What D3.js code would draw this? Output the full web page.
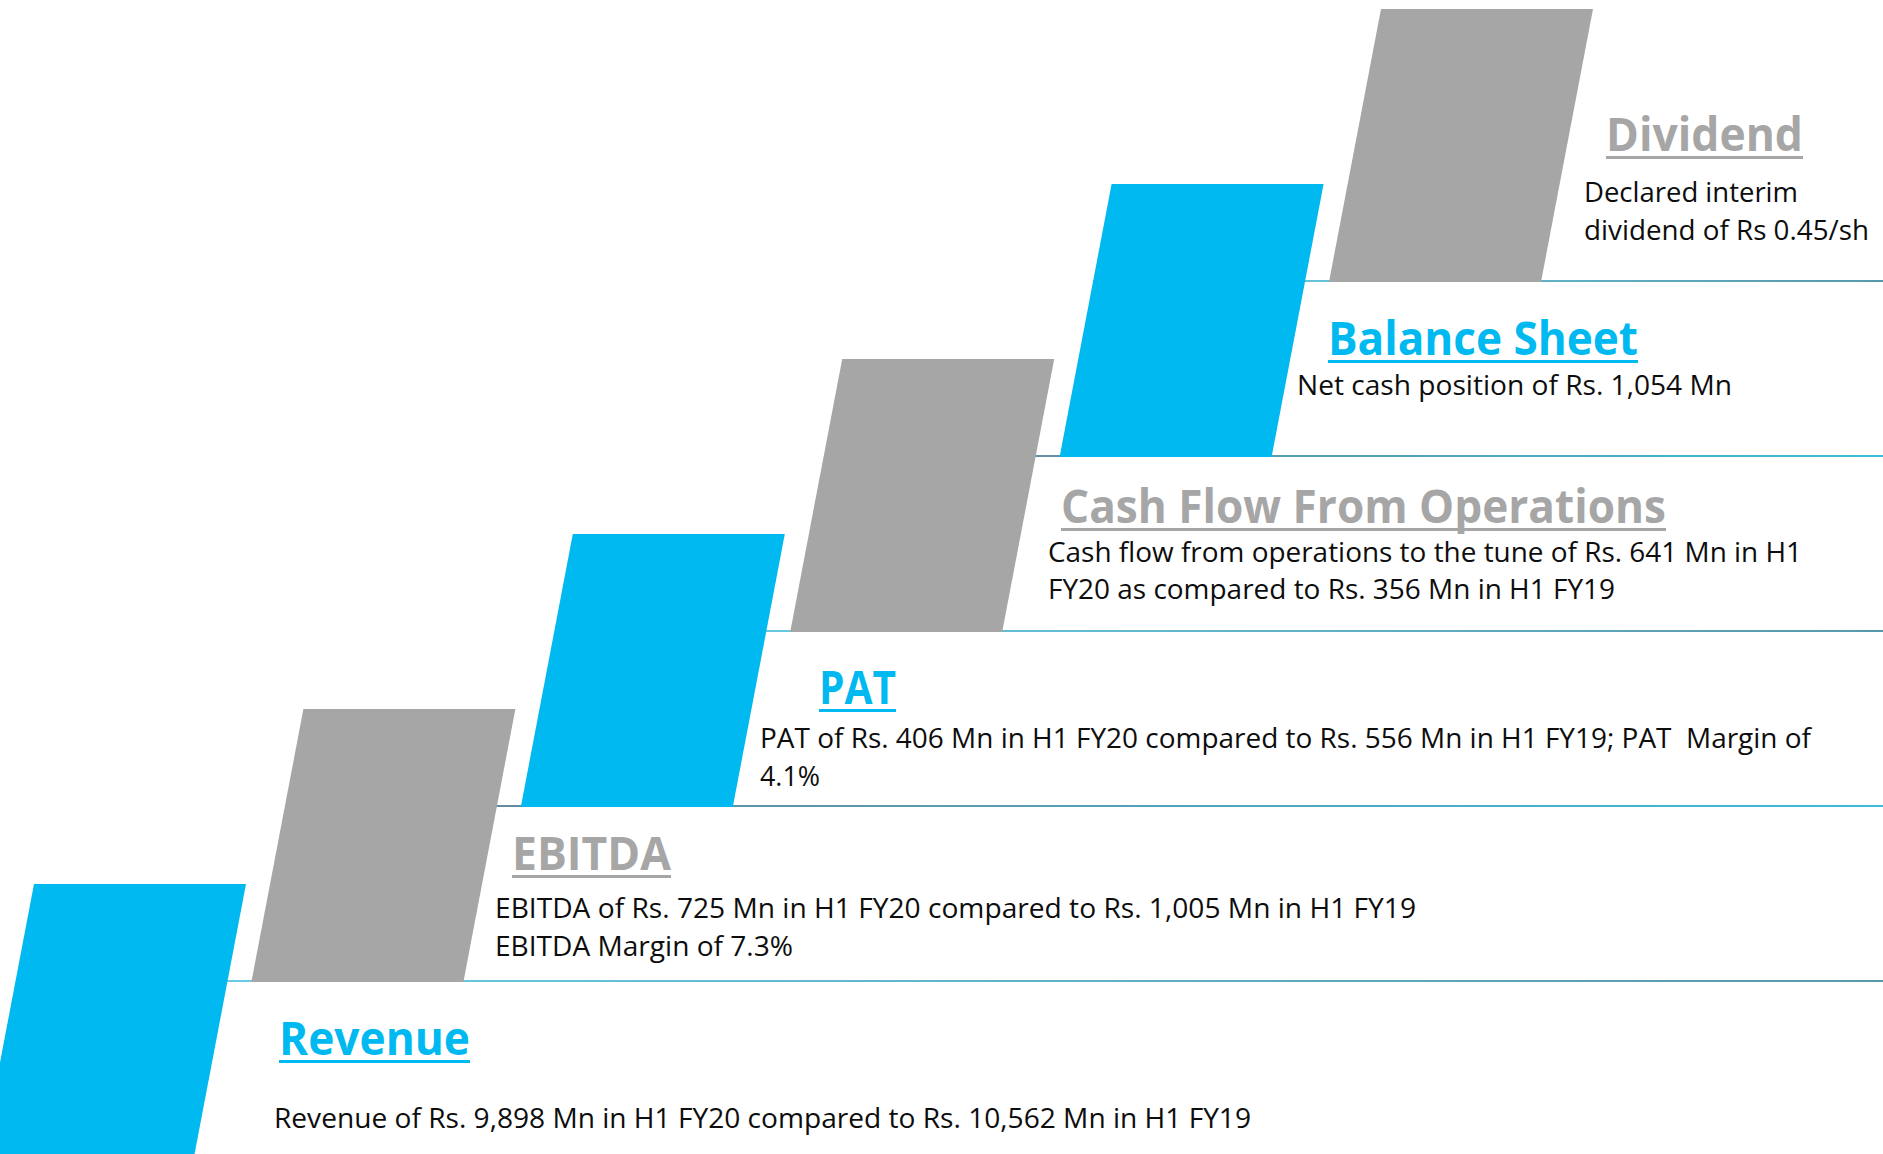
<!DOCTYPE html>
<html>
<head>
<meta charset="utf-8">
<script src="https://cdn.jsdelivr.net/npm/d3@7"></script>
<style>
	html, body { margin: 0; padding: 0; background: #fff; overflow: hidden; }
	svg { display: block; }
	text { white-space: pre; }
</style>
</head>
<body>
<svg id="chart"></svg>
<script>
// ------------------------
// Data
// ------------------------
const categories = [ 'Revenue', 'EBITDA', 'PAT', 'Cash Flow From Operations', 'Balance Sheet', 'Dividend' ];

const descriptions = [
	[ 'Revenue of Rs. 9,898 Mn in H1 FY20 compared to Rs. 10,562 Mn in H1 FY19' ],
	[ 'EBITDA of Rs. 725 Mn in H1 FY20 compared to Rs. 1,005 Mn in H1 FY19', 'EBITDA Margin of 7.3%' ],
	[ 'PAT of Rs. 406 Mn in H1 FY20 compared to Rs. 556 Mn in H1 FY19; PAT  Margin of', '4.1%' ],
	[ 'Cash flow from operations to the tune of Rs. 641 Mn in H1', 'FY20 as compared to Rs. 356 Mn in H1 FY19' ],
	[ 'Net cash position of Rs. 1,054 Mn' ],
	[ 'Declared interim', 'dividend of Rs 0.45/sh' ],
];

// text placement (title / body anchors and fitted widths)
const textLayout = [
	{ tx: 279, ty: 1055, tw: 191, bx: 274, by: [ 1128 ], bw: [ 977 ] },
	{ tx: 512, ty: 870, tw: 159, bx: 495, by: [ 918, 956 ], bw: [ 921, 298 ] },
	{ tx: 819, ty: 704, tw: 77, bx: 760, by: [ 748, 786 ], bw: [ 1051, 60 ] },
	{ tx: 1061, ty: 523, tw: 605, bx: 1048, by: [ 562, 599 ], bw: [ 754, 567 ] },
	{ tx: 1328, ty: 355, tw: 310, bx: 1297, by: [ 395 ], bw: [ 435 ] },
	{ tx: 1606, ty: 151, tw: 197, bx: 1584, by: [ 202, 240 ], bw: [ 214, 285 ] },
];

const width = 1883;
const height = 1154;
const blockW = 212;
const blockH = 273;
const slant = 52;

const BLUE = '#00b9f0';
const GREY = '#a6a6a6';

const steps = d3.range( categories.length );

const xScale = d3.scaleLinear()
	.domain( [ 0, categories.length - 1 ] )
	.range( [ 34, 1381 ] );

const yScale = d3.scaleLinear()
	.domain( [ 0, categories.length - 1 ] )
	.range( [ 884, 9 ] );

const colorOf = i => ( i % 2 === 0 ? BLUE : GREY );

const svg = d3.select( '#chart' )
	.attr( 'width', width )
	.attr( 'height', height )
	.attr( 'viewBox', `0 0 ${ width } ${ height }` );

const defs = svg.append( 'defs' );

// ------------------------
// Step lines (under each block's bottom edge)
// ------------------------
const lineSteps = steps.filter( i => i > 0 );

lineSteps.forEach( i => {
	const x0 = xScale( i - 1 );
	const grad = defs.append( 'linearGradient' )
		.attr( 'id', `lg${ i }` )
		.attr( 'gradientUnits', 'userSpaceOnUse' )
		.attr( 'x1', x0 ).attr( 'x2', width )
		.attr( 'y1', 0 ).attr( 'y2', 0 );
	const stops = i % 2 === 1 ? [ '#6ad2ea', '#5898a9' ] : [ '#6c8496', '#3cbdd8' ];
	grad.selectAll( 'stop' )
		.data( stops )
		.join( 'stop' )
		.attr( 'offset', ( d, k ) => k )
		.attr( 'stop-color', d => d );
} );

svg.append( 'g' )
	.selectAll( 'line' )
	.data( lineSteps )
	.join( 'line' )
	.attr( 'x1', i => xScale( i - 1 ) )
	.attr( 'x2', width )
	.attr( 'y1', i => yScale( i ) + blockH - 1 )
	.attr( 'y2', i => yScale( i ) + blockH - 1 )
	.attr( 'stroke', i => `url(#lg${ i })` )
	.attr( 'stroke-width', 2.2 );

// ------------------------
// Slanted blocks
// ------------------------
svg.append( 'g' )
	.selectAll( 'polygon' )
	.data( steps )
	.join( 'polygon' )
	.attr( 'points', i => {
		const x = xScale( i );
		const y = yScale( i );
		return [
			[ x, y ],
			[ x + blockW, y ],
			[ x + blockW - slant, y + blockH ],
			[ x - slant, y + blockH ],
		].join( ' ' );
	} )
	.attr( 'fill', colorOf );

// ------------------------
// Titles and descriptions
// ------------------------
const labels = svg.append( 'g' )
	.selectAll( 'g' )
	.data( steps )
	.join( 'g' );

labels.append( 'text' )
	.attr( 'x', i => textLayout[ i ].tx )
	.attr( 'y', i => textLayout[ i ].ty )
	.attr( 'textLength', i => textLayout[ i ].tw )
	.attr( 'lengthAdjust', 'spacingAndGlyphs' )
	.style( 'font-family', '"Open Sans", "Noto Sans", sans-serif' )
	.style( 'font-weight', 700 )
	.style( 'font-size', '46px' )
	.attr( 'fill', colorOf )
	.text( i => categories[ i ] );

labels.append( 'rect' )
	.attr( 'x', i => textLayout[ i ].tx )
	.attr( 'y', i => textLayout[ i ].ty + 5 )
	.attr( 'width', i => textLayout[ i ].tw )
	.attr( 'height', 3 )
	.attr( 'fill', colorOf );

labels.selectAll( 'text.body' )
	.data( i => descriptions[ i ].map( ( line, k ) => ( { line, k, i } ) ) )
	.join( 'text' )
	.attr( 'class', 'body' )
	.attr( 'x', d => textLayout[ d.i ].bx )
	.attr( 'y', d => textLayout[ d.i ].by[ d.k ] )
	.attr( 'textLength', d => textLayout[ d.i ].bw[ d.k ] )
	.attr( 'lengthAdjust', 'spacingAndGlyphs' )
	.style( 'font-family', '"Open Sans", "Noto Sans", sans-serif' )
	.style( 'font-size', '27px' )
	.attr( 'fill', '#0d0d0d' )
	.text( d => d.line );
</script>
</body>
</html>
